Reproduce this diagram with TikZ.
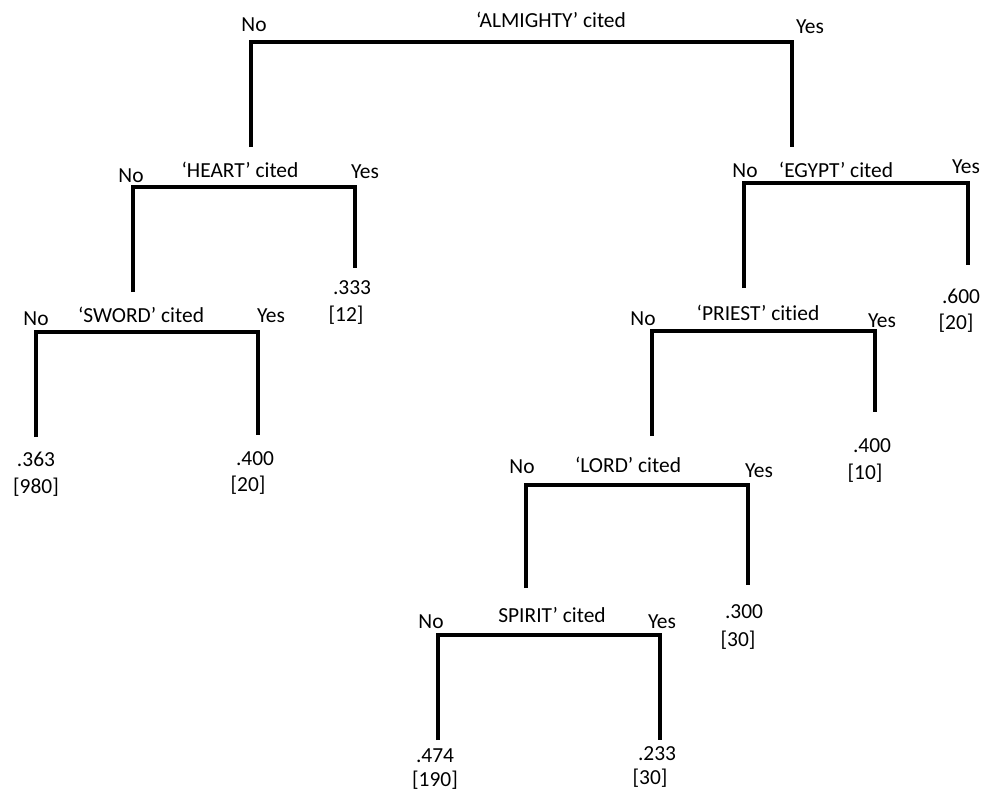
\documentclass[tikz,border=0pt]{standalone}
\usepackage{fontspec}
\setmainfont{Carlito}[Ligatures=NoCommon]
\tikzset{
  branch/.style={line width=1.8pt, line join=miter, line cap=butt},
  lbl/.style={anchor=base, inner sep=0pt, font=\fontsize{12.2}{14}\selectfont}
}
\begin{document}
\begin{tikzpicture}[x=0.02cm,y=-0.02cm]
\useasboundingbox (0,0) rectangle (984,792);
% splits: name / x no / x yes / y bar / end of no / end of yes
\foreach \n/\xa/\xb/\y/\ya/\yb in {alm/251/792/42/147/147, hrt/133/355/187/292/268, swd/36/258/332/437/435, egy/744/968/183/288/265, prs/652/875/331/436/412, lrd/526/748/485/588/585, spr/438/660/635/740/740}{
  \coordinate (\n-no) at (\xa,\y);
  \coordinate (\n-yes) at (\xb,\y);
  \coordinate (\n-noend) at (\xa,\ya);
  \coordinate (\n-yesend) at (\xb,\yb);
  \draw[branch] (\n-noend) -- (\n-no) -- (\n-yes) -- (\n-yesend);
}
% questions and branch labels
\foreach \n/\x/\y/\t in {almq/551/27/‘ALMIGHTY’ cited, almn/254/31/No, almy/810/33/Yes,
  hrtq/240/177/‘HEART’ cited, hrtn/131/182/No, hrty/365/178/Yes,
  swdq/141/322/‘SWORD’ cited, swdn/36/325/No, swdy/271/322/Yes,
  egyq/836/177/‘EGYPT’ cited, egyn/745/177/No, egyy/966/173/Yes,
  prsq/758/320/‘PRIEST’ citied, prsn/643/325/No, prsy/882/327/Yes,
  lrdq/628/472/‘LORD’ cited, lrdn/522/473/No, lrdy/759/477/Yes,
  sprq/552/622/SPIRIT’ cited, sprn/431/628/No, spry/662/628/Yes}{
  \node[lbl] (\n) at (\x,\y) {\t};
}
% leaves: value and count
\foreach \n/\x/\y/\v/\xc/\yc/\c in {swdl/36/466/.363/36/493/[980], swdr/255/465/.400/248/491/[20],
  hrtr/352/294/.333/346/321/[12], egyr/961/303/.600/956/329/[20],
  prsr/872/452/.400/865/479/[10], lrdr/744/618/.300/738/646/[30],
  sprl/435/762/.474/435/786/[190], sprr/657/760/.233/650/784/[30]}{
  \node[lbl] (\n) at (\x,\y) {\v};
  \node[lbl] (\n-n) at (\xc,\yc) {\c};
}
\end{tikzpicture}
\end{document}
